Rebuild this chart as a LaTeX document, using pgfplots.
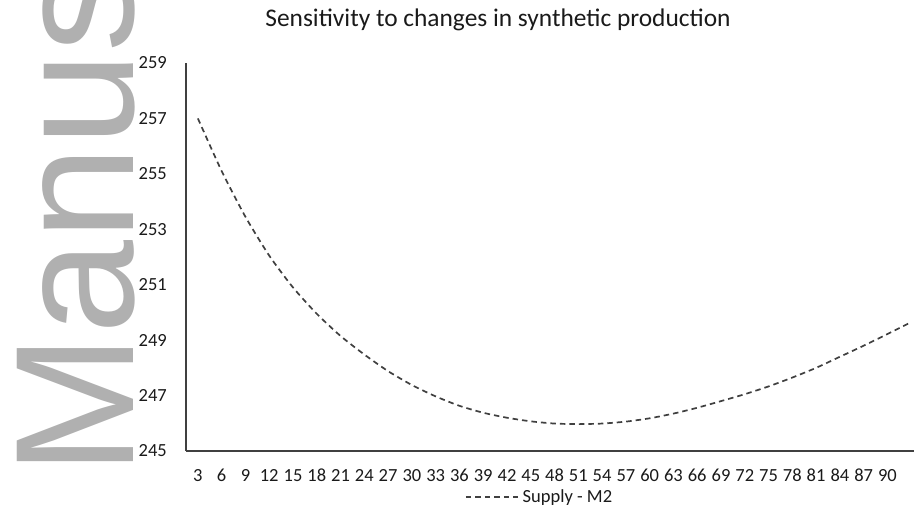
\documentclass[border=0pt]{standalone}
\usepackage{fontspec}
\setmainfont{Carlito}
\newfontfamily\wmfont{Liberation Sans}
\usepackage{pgfplots}
\pgfplotsset{compat=1.18}
\definecolor{wm}{HTML}{B0B0B0}
\definecolor{axl}{HTML}{404040}
\definecolor{txt}{HTML}{1A1A1A}
\pgfplotstableread{
x y
3 257.0
6 255.1
9 253.45
12 252.05
15 250.9
18 249.95
21 249.15
24 248.48
27 247.88
30 247.38
33 246.97
36 246.63
39 246.38
42 246.2
45 246.07
48 245.99
51 245.97
54 245.99
57 246.06
60 246.18
63 246.35
66 246.56
69 246.8
72 247.05
75 247.33
78 247.65
81 248.0
84 248.4
87 248.8
90 249.22
93 249.65
}\supply
\begin{document}
\begin{tikzpicture}
\useasboundingbox (0pt,0pt) rectangle (914pt,529pt);
\clip (0pt,0pt) rectangle (914pt,529pt);
\node[rotate=90, anchor=base west, inner sep=0pt, text=wm, font=\wmfont\fontsize{169}{169}\selectfont] at (133pt,53.5pt) {Manus};
\node[anchor=base, inner sep=0pt, font=\fontsize{25.4}{30}\selectfont, text=txt] at (498pt,502pt) {Sensitivity to changes in synthetic production};
\begin{axis}[
  at={(186pt,78pt)}, anchor=south west,
  scale only axis, width=728pt, height=388pt,
  xmin=1.5, xmax=93.35, ymin=245, ymax=259,
  axis lines=left,
  axis line style={-, draw=axl, line width=1.4pt},
  xtick={3,6,...,90}, ytick={245,247,...,259},
  major tick length=0pt,
  /pgf/number format/assume math mode=true,
  tick label style={font=\fontsize{18.5}{20}\selectfont, text=txt},
  xticklabel style={inner sep=0pt, anchor=north, yshift=-18pt},
  yticklabel style={inner sep=0pt, anchor=east, xshift=-19pt},
  legend style={draw=none, fill=none, at={(0.383,-0.118)}, anchor=west, inner sep=0pt,
    font=\fontsize{18.5}{20}\selectfont, text=txt, nodes={inner sep=4pt}},
  legend image code/.code={\draw[#1] (0pt,0pt) -- (52pt,0pt);},
]
\addplot[draw=axl, line width=1.7pt, dash pattern=on 5.5pt off 4pt, smooth, tension=0.4] table[x=x,y=y] {\supply};
\addlegendentry{Supply - M2}
\end{axis}
\end{tikzpicture}
\end{document}
